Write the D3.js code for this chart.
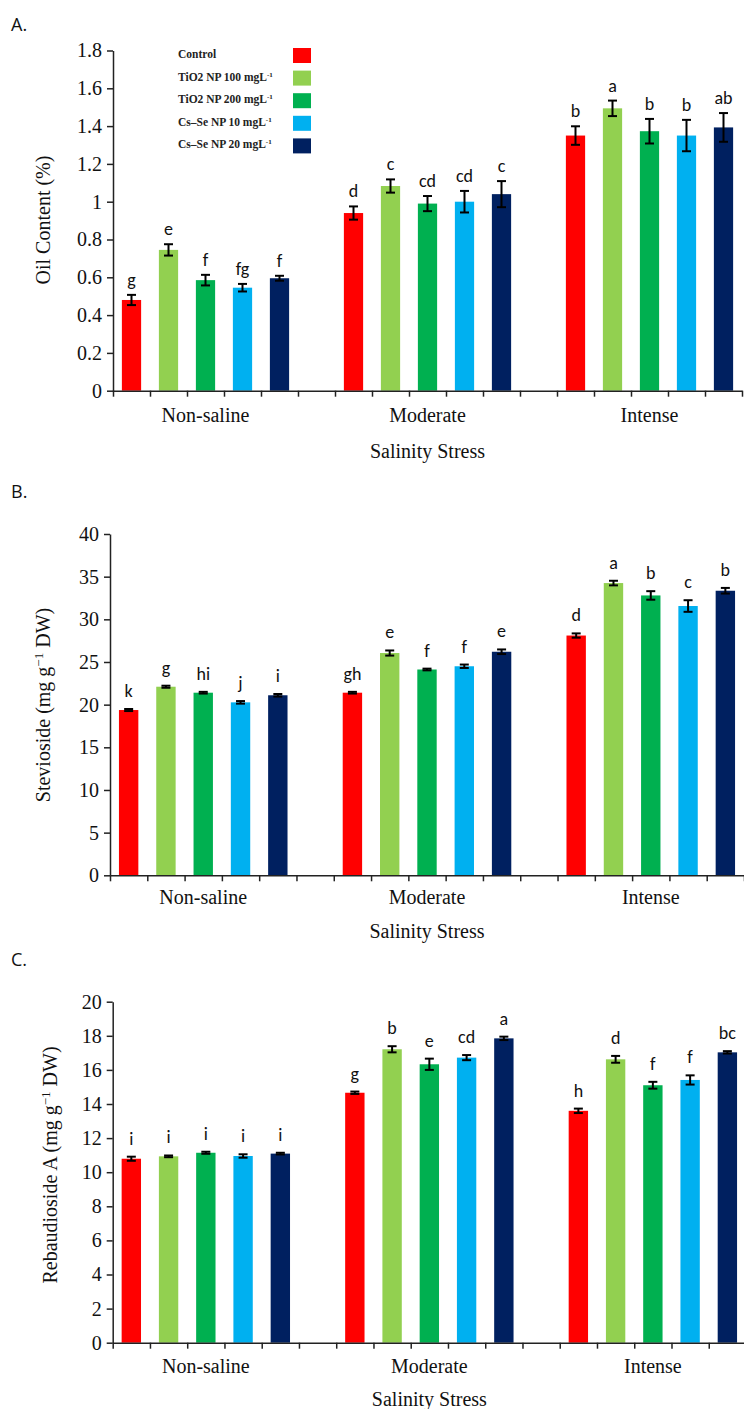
<!DOCTYPE html>
<html>
<head>
<meta charset="utf-8">
<script src="https://cdn.jsdelivr.net/npm/d3@7"></script>
<style>
  body { margin: 0; background: #fff; }
  svg { display: block; }
</style>
</head>
<body>
<svg></svg>
<script>
let w = 744;
let h = 1409;

const svg = d3.select('svg')
  .attr('width', w)
  .attr('height', h)

// Data
const groups = ['Non-saline', 'Moderate', 'Intense'];
const treatments = ['Control', 'TiO2 NP 100 mgL', 'TiO2 NP 200 mgL', 'Cs–Se NP 10 mgL', 'Cs–Se NP 20 mgL'];
const colors = ['#ff0000', '#92d050', '#00b050', '#00b0f0', '#002060'];

// A. oil content (%)  rows = groups, cols = treatments
const oilMean = [[0.48, 0.745, 0.585, 0.545, 0.595], [0.94, 1.083, 0.99, 1.0, 1.04], [1.35, 1.494, 1.373, 1.35, 1.393]];
const oilErr = [[0.027, 0.03, 0.028, 0.02, 0.013], [0.035, 0.035, 0.04, 0.057, 0.069], [0.049, 0.041, 0.065, 0.083, 0.076]];
const oilLetters = [['g', 'e', 'f', 'fg', 'f'], ['d', 'c', 'cd', 'cd', 'c'], ['b', 'a', 'b', 'b', 'ab']];
const oilTicks = [0, 0.2, 0.4, 0.6, 0.8, 1, 1.2, 1.4, 1.6, 1.8];

// B. stevioside
const stevMean = [[19.37, 22.1, 21.4, 20.27, 21.1], [21.4, 26.05, 24.12, 24.5, 26.2], [28.1, 34.25, 32.8, 31.56, 33.35]];
const stevErr = [[0.12, 0.12, 0.1, 0.15, 0.15], [0.1, 0.3, 0.1, 0.2, 0.27], [0.25, 0.27, 0.5, 0.68, 0.33]];
const stevLetters = [['k', 'g', 'hi', 'j', 'i'], ['gh', 'e', 'f', 'f', 'e'], ['d', 'a', 'b', 'c', 'b']];
const stevTicks = [0, 5, 10, 15, 20, 25, 30, 35, 40];

// C. rebaudioside A
const rebMean = [[10.79, 10.93, 11.14, 10.95, 11.09], [14.66, 17.21, 16.33, 16.72, 17.85], [13.6, 16.62, 15.1, 15.41, 17.03]];
const rebErr = [[0.12, 0.05, 0.06, 0.1, 0.05], [0.07, 0.18, 0.33, 0.15, 0.1], [0.13, 0.2, 0.2, 0.27, 0.07]];
const rebLetters = [['i', 'i', 'i', 'i', 'i'], ['g', 'b', 'e', 'cd', 'a'], ['h', 'd', 'f', 'f', 'bc']];
const rebTicks = [0, 2, 4, 6, 8, 10, 12, 14, 16, 18, 20];

const serif = "Liberation Serif, Times New Roman, serif";
const sans = "Carlito, Lato, sans-serif";

function drawPanel(o) {
  const g = svg.append('g')
  const nSlots = groups.length * 6 - 1

  // Scales
  const x = d3.scaleLinear().domain([0, nSlots]).range([o.left, o.right])
  const slot = d3.scaleBand()
    .domain(d3.range(nSlots))
    .range([o.left, o.right])
    .paddingInner(0.48)
    .paddingOuter(0.24)
  const y = d3.scaleLinear().domain([0, o.max]).range([o.bottom, o.top])

  const rows = []
  o.mean.forEach((arr, gi) => arr.forEach((v, ti) => {
    rows.push({ gi, ti, v, e: o.err[gi][ti], lab: o.letters[gi][ti] })
  }))

  // Bars
  g.selectAll('rect.bar')
    .data(rows)
    .enter()
    .append('rect')
    .attr('class', 'bar')
    .attr('x', d => slot(d.gi * 6 + d.ti))
    .attr('width', slot.bandwidth())
    .attr('y', d => y(d.v))
    .attr('height', d => y(0) - y(d.v))
    .attr('fill', d => colors[d.ti])

  // Error bars
  const eb = g.selectAll('g.err')
    .data(rows)
    .enter()
    .append('g')
    .attr('stroke', '#000')
    .attr('stroke-width', 2)
  const cx = d => slot(d.gi * 6 + d.ti) + slot.bandwidth() / 2
  eb.append('line')
    .attr('x1', cx).attr('x2', cx)
    .attr('y1', d => y(d.v - d.e)).attr('y2', d => y(d.v + d.e))
  eb.append('line')
    .attr('x1', d => cx(d) - 4.5).attr('x2', d => cx(d) + 4.5)
    .attr('y1', d => y(d.v + d.e)).attr('y2', d => y(d.v + d.e))
  eb.append('line')
    .attr('x1', d => cx(d) - 4.5).attr('x2', d => cx(d) + 4.5)
    .attr('y1', d => y(d.v - d.e)).attr('y2', d => y(d.v - d.e))

  // Letters
  g.selectAll('text.sig')
    .data(rows)
    .enter()
    .append('text')
    .attr('x', cx)
    .attr('y', d => y(d.v + d.e) - o.letterGap)
    .attr('text-anchor', 'middle')
    .attr('font-family', sans)
    .attr('font-size', 18)
    .attr('fill', '#111')
    .text(d => d.lab)

  // Axes
  const xAxis = d3.axisBottom(x)
    .tickValues(d3.range(nSlots + 1))
    .tickFormat('')
    .tickSize(6)
    .tickSizeOuter(0)
  g.append('g')
    .attr('transform', 'translate(0,' + o.bottom + ')')
    .call(xAxis)
    .call(s => s.selectAll('path,line').attr('stroke', '#222').attr('stroke-width', 1.5))

  const yAxis = d3.axisLeft(y)
    .tickValues(o.ticks)
    .tickFormat(d => String(+d.toFixed(1)))
    .tickSize(6)
    .tickSizeOuter(0)
    .tickPadding(5)
  g.append('g')
    .attr('transform', 'translate(' + o.left + ',0)')
    .call(yAxis)
    .call(s => s.selectAll('path,line').attr('stroke', '#222').attr('stroke-width', 1.5))
    .call(s => s.selectAll('text')
      .attr('font-family', serif)
      .attr('font-size', 20)
      .attr('fill', '#111'))

  // group labels
  g.selectAll('text.grp')
    .data(groups)
    .enter()
    .append('text')
    .attr('x', (d, i) => x(i * 6 + 2.5))
    .attr('y', o.bottom + o.grpGap)
    .attr('text-anchor', 'middle')
    .attr('font-family', serif)
    .attr('font-size', 20)
    .attr('fill', '#111')
    .text(d => d)

  g.append('text')
    .attr('x', x(nSlots / 2))
    .attr('y', o.bottom + o.titleGap)
    .attr('text-anchor', 'middle')
    .attr('font-family', serif)
    .attr('font-size', 20)
    .attr('fill', '#111')
    .text('Salinity Stress')

  // y title
  const yt = g.append('text')
    .attr('transform', 'translate(' + o.ytX + ',' + o.ytY + ') rotate(-90)')
    .attr('text-anchor', 'middle')
    .attr('font-family', serif)
    .attr('font-size', 20)
    .attr('fill', '#111')
  yt.append('tspan').text(o.ytitle[0])
  if (o.ytitle.length > 1) {
    yt.append('tspan').attr('dy', -7).attr('font-size', 13).text('−1')
    yt.append('tspan').attr('dy', 7).text(o.ytitle[1])
  }

  // panel letter
  g.append('text')
    .attr('x', 11)
    .attr('y', o.tagY)
    .attr('font-family', "Open Sans, Noto Sans, sans-serif")
    .attr('font-size', 18)
    .attr('fill', '#111')
    .text(o.tag)
}

drawPanel({ tag: 'A.', tagY: 31, left: 113, right: 742, top: 50.5, bottom: 390.7, max: 1.8,
  ticks: oilTicks, mean: oilMean, err: oilErr, letters: oilLetters, letterGap: 9,
  grpGap: 31, titleGap: 67, ytitle: ['Oil Content (%)'], ytX: 50, ytY: 220 })

drawPanel({ tag: 'B.', tagY: 498, left: 110, right: 744, top: 534, bottom: 875.3, max: 40,
  ticks: stevTicks, mean: stevMean, err: stevErr, letters: stevLetters, letterGap: 12,
  grpGap: 29, titleGap: 63, ytitle: ['Stevioside (mg g', ' DW)'], ytX: 50, ytY: 705 })

drawPanel({ tag: 'C.', tagY: 966, left: 112.7, right: 746, top: 1001.7, bottom: 1342.7, max: 20,
  ticks: rebTicks, mean: rebMean, err: rebErr, letters: rebLetters, letterGap: 12,
  grpGap: 30, titleGap: 63, ytitle: ['Rebaudioside A (mg g', ' DW)'], ytX: 57, ytY: 1165 })

// Legend (panel A)
const legend = svg.append('g')
legend.selectAll('rect')
  .data(treatments)
  .enter()
  .append('rect')
  .attr('x', 293)
  .attr('y', (d, i) => 48 + i * 22.6)
  .attr('width', 18)
  .attr('height', 15)
  .attr('fill', (d, i) => colors[i])

const lt = legend.selectAll('text')
  .data(treatments)
  .enter()
  .append('text')
  .attr('x', 178)
  .attr('y', (d, i) => 58 + i * 22.6)
  .attr('font-family', serif)
  .attr('font-weight', 'bold')
  .attr('font-size', 11.5)
  .attr('fill', '#222')
lt.append('tspan').text(d => d)
lt.filter((d, i) => i > 0)
  .append('tspan')
  .attr('dy', -4)
  .attr('font-size', 7)
  .text('-1')
</script>
</body>
</html>
